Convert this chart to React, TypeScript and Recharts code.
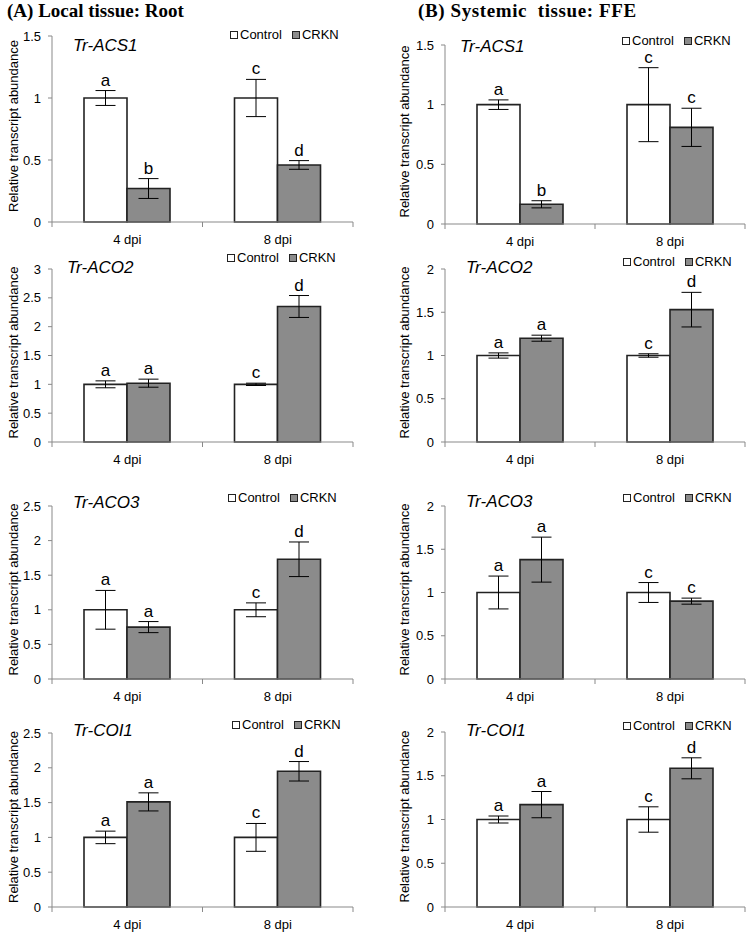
import React from "react";
import { BarChart, Bar, XAxis, YAxis, ErrorBar, LabelList, Legend } from "recharts";

const CATEGORIES = ["4 dpi", "8 dpi"];
const SERIES = ["Control", "CRKN"];

// order in every array: Control 4 dpi, CRKN 4 dpi, Control 8 dpi, CRKN 8 dpi
const ROOT_ACS1_MEAN = [1.0, 0.27, 1.0, 0.46];
const ROOT_ACS1_SE = [0.06, 0.08, 0.15, 0.035];
const ROOT_ACS1_LETTERS = ["a", "b", "c", "d"];

const ROOT_ACO2_MEAN = [1.0, 1.02, 1.0, 2.35];
const ROOT_ACO2_SE = [0.06, 0.07, 0.02, 0.19];
const ROOT_ACO2_LETTERS = ["a", "a", "c", "d"];

const ROOT_ACO3_MEAN = [1.0, 0.75, 1.0, 1.73];
const ROOT_ACO3_SE = [0.28, 0.08, 0.1, 0.25];
const ROOT_ACO3_LETTERS = ["a", "a", "c", "d"];

const ROOT_COI1_MEAN = [1.0, 1.51, 1.0, 1.95];
const ROOT_COI1_SE = [0.09, 0.13, 0.2, 0.14];
const ROOT_COI1_LETTERS = ["a", "a", "c", "d"];

const FFE_ACS1_MEAN = [1.0, 0.165, 1.0, 0.81];
const FFE_ACS1_SE = [0.04, 0.03, 0.31, 0.16];
const FFE_ACS1_LETTERS = ["a", "b", "c", "c"];

const FFE_ACO2_MEAN = [1.0, 1.2, 1.0, 1.53];
const FFE_ACO2_SE = [0.03, 0.035, 0.02, 0.2];
const FFE_ACO2_LETTERS = ["a", "a", "c", "d"];

const FFE_ACO3_MEAN = [1.0, 1.38, 1.0, 0.9];
const FFE_ACO3_SE = [0.19, 0.26, 0.115, 0.035];
const FFE_ACO3_LETTERS = ["a", "a", "c", "c"];

const FFE_COI1_MEAN = [1.0, 1.17, 1.0, 1.585];
const FFE_COI1_SE = [0.04, 0.15, 0.145, 0.12];
const FFE_COI1_LETTERS = ["a", "a", "c", "d"];

const TICKS_15 = [0, 0.5, 1, 1.5];
const TICKS_2 = [0, 0.5, 1, 1.5, 2];
const TICKS_25 = [0, 0.5, 1, 1.5, 2, 2.5];
const TICKS_3 = [0, 0.5, 1, 1.5, 2, 2.5, 3];

const FONT = '"Liberation Sans", Arial, sans-serif';
const AXIS = "#898989";
const GREY = "#8b8b8b";
const EDGE = "#222";

function buildRows(mean: number[], se: number[], letters: string[]) {
  return CATEGORIES.map((dpi, i) => ({
    dpi,
    control: mean[i * 2],
    controlSe: se[i * 2],
    controlLetter: letters[i * 2],
    crkn: mean[i * 2 + 1],
    crknSe: se[i * 2 + 1],
    crknLetter: letters[i * 2 + 1],
  }));
}

const PANELS = [
  { gene: "Tr-ACS1", rows: buildRows(ROOT_ACS1_MEAN, ROOT_ACS1_SE, ROOT_ACS1_LETTERS), ticks: TICKS_15,
    col: 0, top: 36, bottom: 222, geneX: 73, geneY: 51, legX: 230, legY: 35 },
  { gene: "Tr-ACO2", rows: buildRows(ROOT_ACO2_MEAN, ROOT_ACO2_SE, ROOT_ACO2_LETTERS), ticks: TICKS_3,
    col: 0, top: 269, bottom: 442, geneX: 67, geneY: 273, legX: 227, legY: 258 },
  { gene: "Tr-ACO3", rows: buildRows(ROOT_ACO3_MEAN, ROOT_ACO3_SE, ROOT_ACO3_LETTERS), ticks: TICKS_25,
    col: 0, top: 506, bottom: 679, geneX: 73, geneY: 508, legX: 228, legY: 498 },
  { gene: "Tr-COI1", rows: buildRows(ROOT_COI1_MEAN, ROOT_COI1_SE, ROOT_COI1_LETTERS), ticks: TICKS_25,
    col: 0, top: 733, bottom: 907, geneX: 73, geneY: 736, legX: 232, legY: 725 },
  { gene: "Tr-ACS1", rows: buildRows(FFE_ACS1_MEAN, FFE_ACS1_SE, FFE_ACS1_LETTERS), ticks: TICKS_15,
    col: 1, top: 45, bottom: 224, geneX: 460, geneY: 52, legX: 622, legY: 41 },
  { gene: "Tr-ACO2", rows: buildRows(FFE_ACO2_MEAN, FFE_ACO2_SE, FFE_ACO2_LETTERS), ticks: TICKS_2,
    col: 1, top: 269, bottom: 442, geneX: 466, geneY: 273, legX: 623, legY: 262 },
  { gene: "Tr-ACO3", rows: buildRows(FFE_ACO3_MEAN, FFE_ACO3_SE, FFE_ACO3_LETTERS), ticks: TICKS_2,
    col: 1, top: 506, bottom: 679, geneX: 466, geneY: 507, legX: 623, legY: 498 },
  { gene: "Tr-COI1", rows: buildRows(FFE_COI1_MEAN, FFE_COI1_SE, FFE_COI1_LETTERS), ticks: TICKS_2,
    col: 1, top: 732, bottom: 907, geneX: 466, geneY: 736, legX: 623, legY: 726 },
];

const MT = 40; // room above plot
const XH = 30; // x axis height

function letterLabel(rows: any[], key: "control" | "crkn") {
  return (props: any) => {
    const vb = props.viewBox || {};
    const x = props.x ?? vb.x;
    const y = props.y ?? vb.y;
    const w = props.width ?? vb.width;
    const h = props.height ?? vb.height;
    const row = rows[props.index];
    if (!row || x == null) return null;
    const pxPerUnit = Math.abs(h) / row[key];
    const errTop = y - row[key + "Se"] * pxPerUnit;
    return (
      <text x={x + w / 2} y={errTop - 5} textAnchor="middle" fontSize={17} fontFamily={FONT} fill="#000">
        {row[key + "Letter"]}
      </text>
    );
  };
}

function DpiTick(props: any) {
  const { x, y, payload, index, band } = props;
  return (
    <g>
      <text x={x} y={y + 22} textAnchor="middle" fontSize={13} fontFamily={FONT} fill="#000">
        {payload.value}
      </text>
      {index === 0 && <line x1={x - band / 2} y1={y} x2={x - band / 2} y2={y + 5} stroke={AXIS} />}
      <line x1={x + band / 2} y1={y} x2={x + band / 2} y2={y + 5} stroke={AXIS} />
    </g>
  );
}

function LegendBox() {
  const items = SERIES.map((name, i) => ({ name, fill: i === 0 ? "#fff" : GREY }));
  return (
    <div style={{ display: "flex", alignItems: "center", fontFamily: FONT, fontSize: 13, lineHeight: "14px", whiteSpace: "nowrap" }}>
      {items.map((it, i) => (
        <span key={it.name} style={{ display: "flex", alignItems: "center", marginRight: i === 0 ? 10 : 0 }}>
          <span style={{ display: "inline-block", width: 6, height: 6, border: "1px solid #222", background: it.fill, marginRight: 2 }} />
          {it.name}
        </span>
      ))}
    </div>
  );
}

function Panel({ p }: { p: (typeof PANELS)[number] }) {
  const left = p.col * 375;
  const plotLeft = p.col === 0 ? 52 : 70;
  const plotRight = p.col === 0 ? 353 : 370;
  const plotH = p.bottom - p.top;
  const height = MT + plotH + XH;
  const chartTop = p.top - MT;
  const band = (plotRight - plotLeft) / CATEGORIES.length;
  const max = p.ticks[p.ticks.length - 1];
  const yLabelX = p.col === 0 ? 13 : 29;
  return (
    <div style={{ position: "absolute", left, top: chartTop, width: 375, height }}>
      <BarChart
        width={375}
        height={height}
        data={p.rows}
        margin={{ top: MT, right: 375 - plotRight, left: 0, bottom: 0 }}
        barGap={0}
      >
        <XAxis
          dataKey="dpi"
          height={XH}
          axisLine={{ stroke: AXIS }}
          tickLine={false}
          tickSize={0}
          tickMargin={0}
          interval={0}
          tick={<DpiTick band={band} />}
        />
        <YAxis
          width={plotLeft}
          domain={[0, max]}
          ticks={p.ticks}
          interval={0}
          axisLine={{ stroke: AXIS }}
          tickLine={{ stroke: AXIS }}
          tickSize={4}
          tickMargin={7}
          tick={{ fontSize: 13, fontFamily: FONT, fill: "#000" }}
          label={() => (
            <text
              x={yLabelX}
              y={MT + plotH / 2 - 3}
              transform={`rotate(-90, ${yLabelX}, ${MT + plotH / 2 - 3})`}
              textAnchor="middle"
              dominantBaseline="central"
              fontSize={13}
              fontFamily={FONT}
              fill="#000"
            >
              Relative transcript abundance
            </text>
          )}
        />
        <Legend
          layout="horizontal"
          verticalAlign="middle"
          align="center"
          content={<LegendBox />}
          wrapperStyle={{ position: "absolute", left: p.legX - left, top: p.legY - chartTop - 7, width: "auto" }}
        />
        <Bar dataKey="control" name="Control" fill="#fff" stroke={EDGE} strokeWidth={1.6} barSize={43} isAnimationActive={false}>
          <ErrorBar dataKey="controlSe" width={10} stroke="#000" strokeWidth={1} />
          <LabelList dataKey="controlLetter" content={letterLabel(p.rows, "control")} />
        </Bar>
        <Bar dataKey="crkn" name="CRKN" fill={GREY} stroke={EDGE} strokeWidth={1.6} barSize={43} isAnimationActive={false}>
          <ErrorBar dataKey="crknSe" width={10} stroke="#000" strokeWidth={1} />
          <LabelList dataKey="crknLetter" content={letterLabel(p.rows, "crkn")} />
        </Bar>
      </BarChart>
      <div
        style={{
          position: "absolute",
          left: p.geneX - left,
          top: p.geneY - chartTop - 14,
          fontFamily: FONT,
          fontStyle: "italic",
          fontSize: 17,
          lineHeight: "17px",
          whiteSpace: "nowrap",
        }}
      >
        {p.gene}
      </div>
    </div>
  );
}

const titleStyle: React.CSSProperties = {
  position: "absolute",
  top: 1,
  fontFamily: '"Liberation Serif", "Times New Roman", serif',
  fontWeight: "bold",
  fontSize: 19,
  lineHeight: "19px",
  whiteSpace: "pre",
};

export default function App() {
  return (
    <div style={{ position: "absolute", left: 0, top: 0, width: 750, height: 933, background: "#fff", overflow: "hidden" }}>
      <div style={{ ...titleStyle, left: 7 }}>(A) Local tissue: Root</div>
      <div style={{ ...titleStyle, left: 418, letterSpacing: 0.6 }}>(B) Systemic  tissue: FFE</div>
      {PANELS.map((p, i) => (
        <Panel key={i} p={p} />
      ))}
    </div>
  );
}
